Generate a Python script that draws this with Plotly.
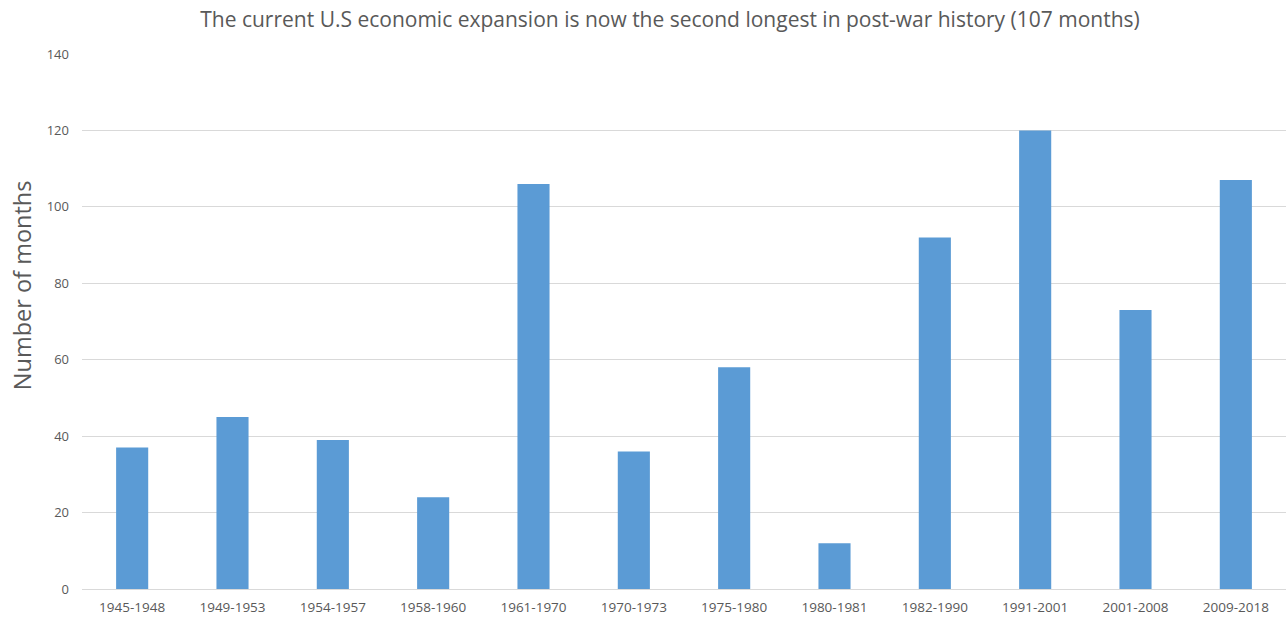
import plotly.graph_objects as go

periods = ["1945-1948", "1949-1953", "1954-1957", "1958-1960", "1961-1970", "1970-1973",
           "1975-1980", "1980-1981", "1982-1990", "1991-2001", "2001-2008", "2009-2018"]
months = [37, 45, 39, 24, 106, 36, 58, 12, 92, 120, 73, 107]

title_text = "The current U.S economic expansion is now the second longest in post-war history (107 months)"
y_title = "Number of months"

fig = go.Figure(go.Bar(x=periods, y=months, marker=dict(color="#5B9BD5", line=dict(width=0))))

fig.update_layout(
    width=1286, height=617,
    margin=dict(l=82, r=0, t=54, b=28),
    paper_bgcolor="white", plot_bgcolor="white",
    bargap=0.68,
    font=dict(family="Open Sans", color="#595959"),
    title=dict(text=title_text, x=0.521, xanchor="center", y=0.9676, yanchor="middle",
               font=dict(size=21, color="#595959")),
    showlegend=False,
    annotations=[dict(text=y_title, xref="paper", yref="paper", x=-0.0498, y=0.568,
                      xanchor="center", yanchor="middle", textangle=-90, showarrow=False,
                      font=dict(size=23.5, color="#595959"))],
)
fig.update_xaxes(showgrid=False, showline=False, ticks="", ticklabelstandoff=8,
                 tickfont=dict(size=13.5, color="#595959"))
fig.update_yaxes(range=[0, 140], dtick=20, showgrid=True, gridcolor="#D9D9D9", gridwidth=1,
                 zeroline=True, zerolinecolor="#D9D9D9", zerolinewidth=1,
                 tickfont=dict(size=13, color="#595959"), ticklabelstandoff=12)

fig.write_html("out.html", config={"displayModeBar": False},
               post_script="document.body.style.margin='0';")
